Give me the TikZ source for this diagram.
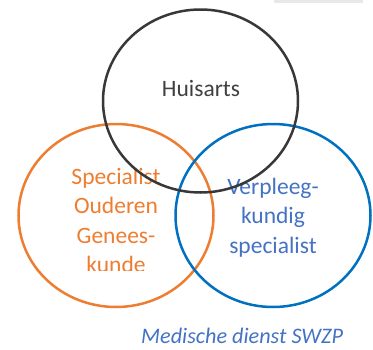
\documentclass[tikz,border=0pt]{standalone}
\usepackage{fontspec}
\setmainfont{Carlito}
\usetikzlibrary{shapes.geometric}
\definecolor{ringblack}{HTML}{383838}
\definecolor{ringorange}{HTML}{ED7D31}
\definecolor{ringblue}{HTML}{0070C0}
\definecolor{textblue}{HTML}{4472C4}
\definecolor{textgray}{HTML}{404040}
\tikzset{ring/.style={ellipse,draw,line width=2.5pt,inner sep=0pt,minimum width=195pt,minimum height=183pt},
  lbl/.style={align=center,inner sep=0pt,anchor=base,font=\fontsize{23.5}{29.5}\selectfont}}

\begin{document}
\begin{tikzpicture}[x=1pt,y=-1pt]
  \useasboundingbox (0,0) rectangle (373,349);
  \fill[gray!18] (274,0) rectangle (363,2.5);
  % texts (base = last line)
  \node[lbl,text=textgray] (huisartstxt) at (201,96) {Huisarts};
  \begin{scope}
    \clip (0,0) rectangle (373,270);
    \node[lbl,text=ringorange] (sogtxt) at (116,272.5) {Specialist\\Ouderen\\Genees-\\kunde};
  \end{scope}
  \node[lbl,text=textblue] (vstxt) at (273,253) {Verpleeg-\\kundig\\specialist};
  \node[lbl,anchor=base west,text=textblue,font=\fontsize{22.2}{26}\selectfont\itshape] (swzp) at (141,343) {Medische dienst SWZP};
  % circles
  \node[ring,draw=ringorange] (sog) at (116,215.5) {};
  \node[ring,draw=ringblue] (vs) at (273,215.5) {};
  \node[ring,draw=ringblack] (huisarts) at (200.5,101) {};
\end{tikzpicture}
\end{document}
